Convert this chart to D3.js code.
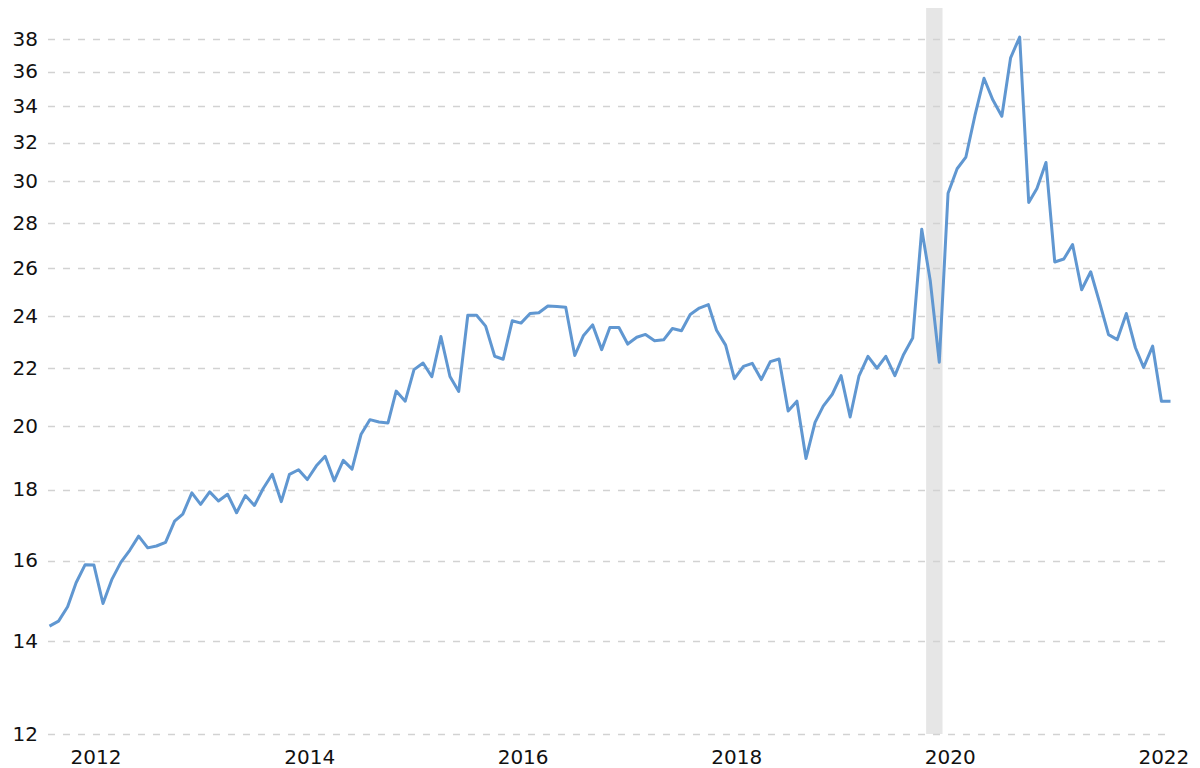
<!DOCTYPE html>
<html>
<head>
<meta charset="utf-8">
<script src="https://cdn.jsdelivr.net/npm/d3@7"></script>
<style>
  html, body { margin: 0; padding: 0; background: #fff; }
  svg { display: block; }
  text { font-family: "DejaVu Sans", Verdana, sans-serif; }
</style>
</head>
<body>
<svg id="chart" width="1200" height="768"></svg>
<script>
// ---- Data (monthly) ----
const startMonth = "2011-12-01";
const values = [
  14.35, 14.47, 14.82, 15.42, 15.89, 15.88, 14.90, 15.50, 15.95, 16.28,
  16.66, 16.34, 16.39, 16.49, 17.08, 17.28, 17.90, 17.56, 17.93, 17.66,
  17.86, 17.32, 17.82, 17.53, 18.03, 18.46, 17.64, 18.46, 18.60, 18.30,
  18.72, 19.02, 18.26, 18.89, 18.62, 19.73, 20.21, 20.13, 20.10, 21.19,
  20.84, 21.96, 22.20, 21.70, 23.20, 21.71, 21.18, 24.03, 24.03, 23.60,
  22.45, 22.34, 23.81, 23.72, 24.10, 24.13, 24.40, 24.38, 24.35, 22.48,
  23.24, 23.65, 22.70, 23.55, 23.55, 22.91, 23.17, 23.28, 23.04, 23.07,
  23.51, 23.42, 24.06, 24.32, 24.46, 23.44, 22.87, 21.63, 22.08, 22.19,
  21.60, 22.25, 22.35, 20.50, 20.84, 18.95, 20.12, 20.67, 21.08, 21.74,
  20.30, 21.72, 22.45, 22.01, 22.45, 21.74, 22.52, 23.14, 27.72, 25.46,
  22.23, 29.42, 30.64, 31.24, 33.47, 35.60, 34.35, 33.43, 36.83, 38.12,
  28.97, 29.65, 30.96, 26.25, 26.38, 27.02, 25.07, 25.83, 24.56, 23.27,
  23.08, 24.10, 22.77, 22.04, 22.83, 20.84, 20.84
];
const yTicks = [12, 14, 16, 18, 20, 22, 24, 26, 28, 30, 32, 34, 36, 38];
const xTickYears = [2012, 2014, 2016, 2018, 2020, 2022];
const recession = [["2020-02-16", "2020-04-12"]];
const yDomain = [12, 40];

// ---- Layout ----
const svg = d3.select("#chart");
const plot = { left: 49.5, right: 1170.5, top: 8, bottom: 734 };
const gridLeft = 48, gridRight = 1172;

const parse = d3.utcParse("%Y-%m-%d");
const start = parse(startMonth);
const dates = values.map((v, i) => d3.utcMonth.offset(start, i));
const data = dates.map((d, i) => ({ date: d, value: values[i] }));

const x = d3.scaleUtc()
  .domain([dates[0], dates[dates.length - 1]])
  .range([plot.left, plot.right]);

const y = d3.scaleLog()
  .domain(yDomain)
  .range([plot.bottom, plot.top]);

// Recession band
svg.append("g").selectAll("rect")
  .data(recession)
  .join("rect")
  .attr("x", d => x(parse(d[0])))
  .attr("width", d => x(parse(d[1])) - x(parse(d[0])))
  .attr("y", plot.top)
  .attr("height", plot.bottom - plot.top)
  .attr("fill", "#e6e6e6");

// Gridlines
svg.append("g").selectAll("line")
  .data(yTicks)
  .join("line")
  .attr("x1", gridLeft)
  .attr("x2", gridRight)
  .attr("y1", d => Math.round(y(d)) + 0.5)
  .attr("y2", d => Math.round(y(d)) + 0.5)
  .attr("stroke", "#d2d2d2")
  .attr("stroke-width", 1.4)
  .attr("stroke-dasharray", "7,8");

// Y axis
const yAxis = d3.axisLeft(y)
  .tickValues(yTicks)
  .tickFormat(d3.format("d"))
  .tickSize(0)
  .tickPadding(0);
const gy = svg.append("g")
  .attr("transform", `translate(38,0)`)
  .call(yAxis);
gy.select(".domain").remove();
gy.selectAll("text")
  .attr("fill", "#111")
  .style("font-size", "20px");

// X axis
const xAxis = d3.axisBottom(x)
  .tickValues(xTickYears.map(yr => new Date(Date.UTC(yr, 0, 1))))
  .tickFormat(d3.utcFormat("%Y"))
  .tickSize(0)
  .tickPadding(0);
const gx = svg.append("g")
  .attr("transform", `translate(0,${plot.bottom})`)
  .call(xAxis);
gx.select(".domain").remove();
gx.selectAll("text")
  .attr("fill", "#111")
  .attr("dy", "0")
  .attr("y", 30)
  .attr("dx", 37)
  .style("font-size", "20px");

// Line
const line = d3.line()
  .x(d => x(d.date))
  .y(d => y(d.value));

svg.append("path")
  .datum(data)
  .attr("fill", "none")
  .attr("stroke", "#6097d1")
  .attr("stroke-width", 3)
  .attr("stroke-linejoin", "round")
  .attr("d", line);
</script>
</body>
</html>
